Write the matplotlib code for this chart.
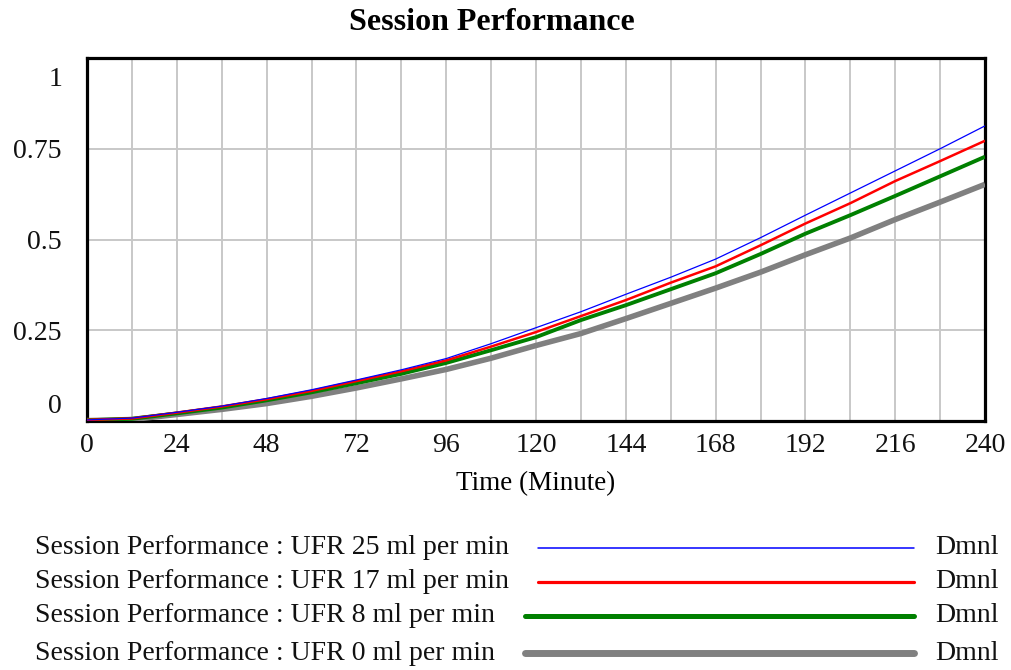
import matplotlib
matplotlib.use("Agg")
import matplotlib.pyplot as plt
import matplotlib.transforms as mtransforms
from matplotlib.lines import Line2D

plt.rcParams["font.family"] = ["Liberation Serif", "DejaVu Serif"]

# Simulation output, sampled every 12 minutes
time_min = [0, 12, 24, 36, 48, 60, 72, 84, 96, 108, 120,
            132, 144, 156, 168, 180, 192, 204, 216, 228, 240]
ufr_25 = [0.003, 0.008, 0.024, 0.041, 0.062, 0.086, 0.113, 0.141, 0.172, 0.213, 0.257,
          0.301, 0.349, 0.396, 0.446, 0.505, 0.567, 0.628, 0.689, 0.750, 0.813]
ufr_17 = [0.003, 0.007, 0.023, 0.040, 0.060, 0.083, 0.110, 0.137, 0.167, 0.205, 0.245,
          0.289, 0.333, 0.381, 0.426, 0.484, 0.544, 0.600, 0.661, 0.716, 0.772]
ufr_8 = [0.002, 0.006, 0.021, 0.037, 0.057, 0.079, 0.104, 0.130, 0.160, 0.195, 0.231,
         0.278, 0.319, 0.363, 0.407, 0.460, 0.516, 0.567, 0.620, 0.674, 0.728]
ufr_0 = [0.001, 0.004, 0.018, 0.032, 0.048, 0.068, 0.091, 0.116, 0.142, 0.173, 0.208,
         0.241, 0.282, 0.324, 0.366, 0.410, 0.458, 0.504, 0.555, 0.603, 0.652]

series_labels = ["Session Performance : UFR 25 ml per min",
                 "Session Performance : UFR 17 ml per min",
                 "Session Performance : UFR 8 ml per min",
                 "Session Performance : UFR 0 ml per min"]
series_units = "Dmnl"
x_ticks = [0, 24, 48, 72, 96, 120, 144, 168, 192, 216, 240]
y_ticks = [0, 0.25, 0.5, 0.75, 1]
y_tick_labels = ["0", "0.25", "0.5", "0.75", "1"]

series = [ufr_25, ufr_17, ufr_8, ufr_0]
colors = ["#0000ff", "#ff0000", "#008000", "#808080"]
widths = [0.9, 1.8, 2.8, 4.0]
legend_widths = [1.1, 2.3, 3.6, 5.0]

W, H = 1011, 670
fig = plt.figure(figsize=(W / 100, H / 100), dpi=100)
fig.patch.set_facecolor("white")

left, right, top, bottom = 87, 985, 58, 421
ax = fig.add_axes([left / W, 1 - bottom / H, (right - left) / W, (bottom - top) / H])

# draw grey (widest) first so thin lines stay visible on top
for vals, c, lw in reversed(list(zip(series, colors, widths))):
    ax.plot(time_min, vals, color=c, lw=lw, solid_capstyle="butt", zorder=3)

ax.set_xlim(0, 240)
ax.set_ylim(0, 1)
ax.set_xticks(x_ticks)
ax.set_xticks(time_min, minor=True)
ax.set_yticks(y_ticks)
ax.set_yticklabels(y_tick_labels)
ax.grid(True, which="both", color="#c8c8c8", lw=1.4, zorder=1)
ax.tick_params(which="both", length=0)
ax.tick_params(axis="x", labelsize=20, pad=9, colors="#111111")
ax.tick_params(axis="y", labelsize=20, pad=18, colors="#111111")
for sp in ax.spines.values():
    sp.set_linewidth(2.3)
    sp.set_color("black")

# the end labels of the value axis sit inside the range
ylabels = ax.get_yticklabels()
ylabels[0].set_va("bottom")
ylabels[0].set_transform(ylabels[0].get_transform() +
                         mtransforms.ScaledTranslation(0, 0.02, fig.dpi_scale_trans))
ylabels[-1].set_va("top")
ylabels[-1].set_transform(ylabels[-1].get_transform() +
                          mtransforms.ScaledTranslation(0, -0.09, fig.dpi_scale_trans))

ax.set_xlabel("Time (Minute)", fontsize=19.5, labelpad=9)

fig.text(492 / W, 1 - 22 / H, "Session Performance", ha="center", va="center",
         fontsize=23, fontweight="bold")

# legend block under the chart
rows_y = [548, 582, 616, 653]
line_x0 = [538, 538, 525, 525]
for lab, c, lw, y, x0 in zip(series_labels, colors, legend_widths, rows_y, line_x0):
    fy = 1 - y / H
    fig.text(35 / W, fy, lab, ha="left", va="center", fontsize=20, color="#111111")
    fig.add_artist(Line2D([x0 / W, 914 / W], [fy, fy], color=c, lw=lw,
                          solid_capstyle="round"))
    fig.text(935 / W, fy, series_units, ha="left", va="center", fontsize=20, color="#111111")

fig.savefig("out.png", dpi=100, facecolor="white")
